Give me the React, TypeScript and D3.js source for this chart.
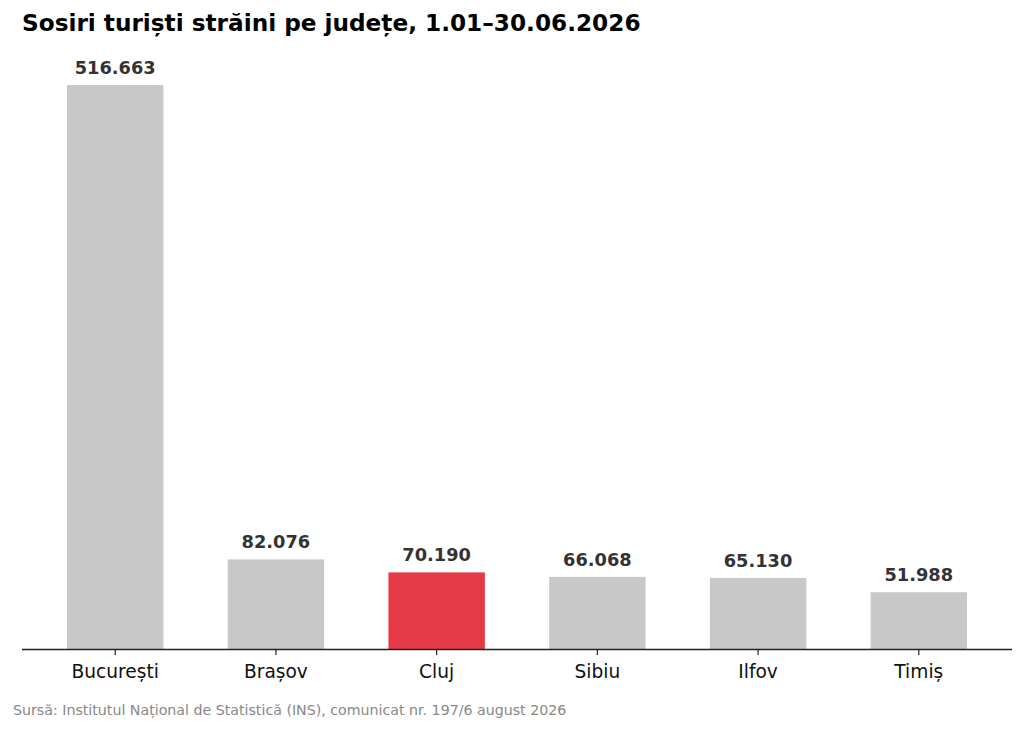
import { useEffect, useRef } from 'react';
import * as d3 from 'd3';

// Sosiri turisti straini, 1.01-30.06.2026
const counties = ['București', 'Brașov', 'Cluj', 'Sibiu', 'Ilfov', 'Timiș'];
const arrivals = [516663, 82076, 70190, 66068, 65130, 51988];
const highlight = 'Cluj';

const W = 1024;
const H = 730;
const FONT = '"DejaVu Sans", Verdana, sans-serif';

const fmt = (v: number): string => d3.format(',')(v).replace(/,/g, '.');

export default function App(): JSX.Element {
  const svgRef = useRef<SVGSVGElement>(null);

  useEffect(() => {
    if (!svgRef.current) return;
    const svg = d3.select(svgRef.current);
    svg.selectAll('*').remove();

    const data = counties.map((c, i) => ({ county: c, value: arrivals[i] }));

    const x = d3.scaleBand()
      .domain(counties)
      .range([22, 1012])
      .paddingInner(0.4)
      .paddingOuter(0.28);

    const maxV = d3.max(arrivals) || 0;
    const baseY = 649;
    const y = d3.scaleLinear()
      .domain([0, maxV * 1.1])
      .range([baseY, baseY - 564 * 1.1]);

    // Title
    svg.append('text')
      .attr('x', 22)
      .attr('y', 31)
      .style('font-family', FONT)
      .style('font-size', '23.2px')
      .style('font-weight', 'bold')
      .style('fill', '#000')
      .text('Sosiri turiști străini pe județe, 1.01–30.06.2026');

    // Bars
    svg.selectAll('.bar')
      .data(data)
      .enter()
      .append('rect')
      .attr('class', 'bar')
      .attr('x', d => x(d.county) || 0)
      .attr('y', d => y(d.value))
      .attr('width', x.bandwidth())
      .attr('height', d => baseY - y(d.value))
      .attr('fill', d => (d.county === highlight ? '#e63946' : '#c8c8c8'));

    // Value labels
    svg.selectAll('.val')
      .data(data)
      .enter()
      .append('text')
      .attr('class', 'val')
      .attr('x', d => (x(d.county) || 0) + x.bandwidth() / 2)
      .attr('y', d => y(d.value) - 11)
      .attr('text-anchor', 'middle')
      .style('font-family', FONT)
      .style('font-size', '17.8px')
      .style('font-weight', 'bold')
      .style('fill', '#333')
      .text(d => fmt(d.value));

    // X axis
    const axis = svg.append('g')
      .attr('transform', `translate(0,${baseY})`)
      .call(d3.axisBottom(x).tickSizeOuter(0).tickSize(6).tickPadding(10));
    axis.select('.domain')
      .attr('d', 'M22,0.5H1012')
      .attr('stroke', '#222')
      .attr('stroke-width', 1.3);
    axis.selectAll('.tick line').attr('stroke', '#222').attr('stroke-width', 1.2);
    axis.selectAll('.tick text')
      .style('font-family', FONT)
      .style('font-size', '18.6px')
      .style('fill', '#111');

    // Source
    svg.append('text')
      .attr('x', 13)
      .attr('y', 715)
      .style('font-family', FONT)
      .style('font-size', '14.2px')
      .style('fill', '#888')
      .text('Sursă: Institutul Național de Statistică (INS), comunicat nr. 197/6 august 2026');
  }, []);

  return (
    <div style={{ position: 'absolute', left: 0, top: 0 }}>
      <svg ref={svgRef} width={W} height={H} style={{ display: 'block', background: '#fff' }} />
    </div>
  );
}
